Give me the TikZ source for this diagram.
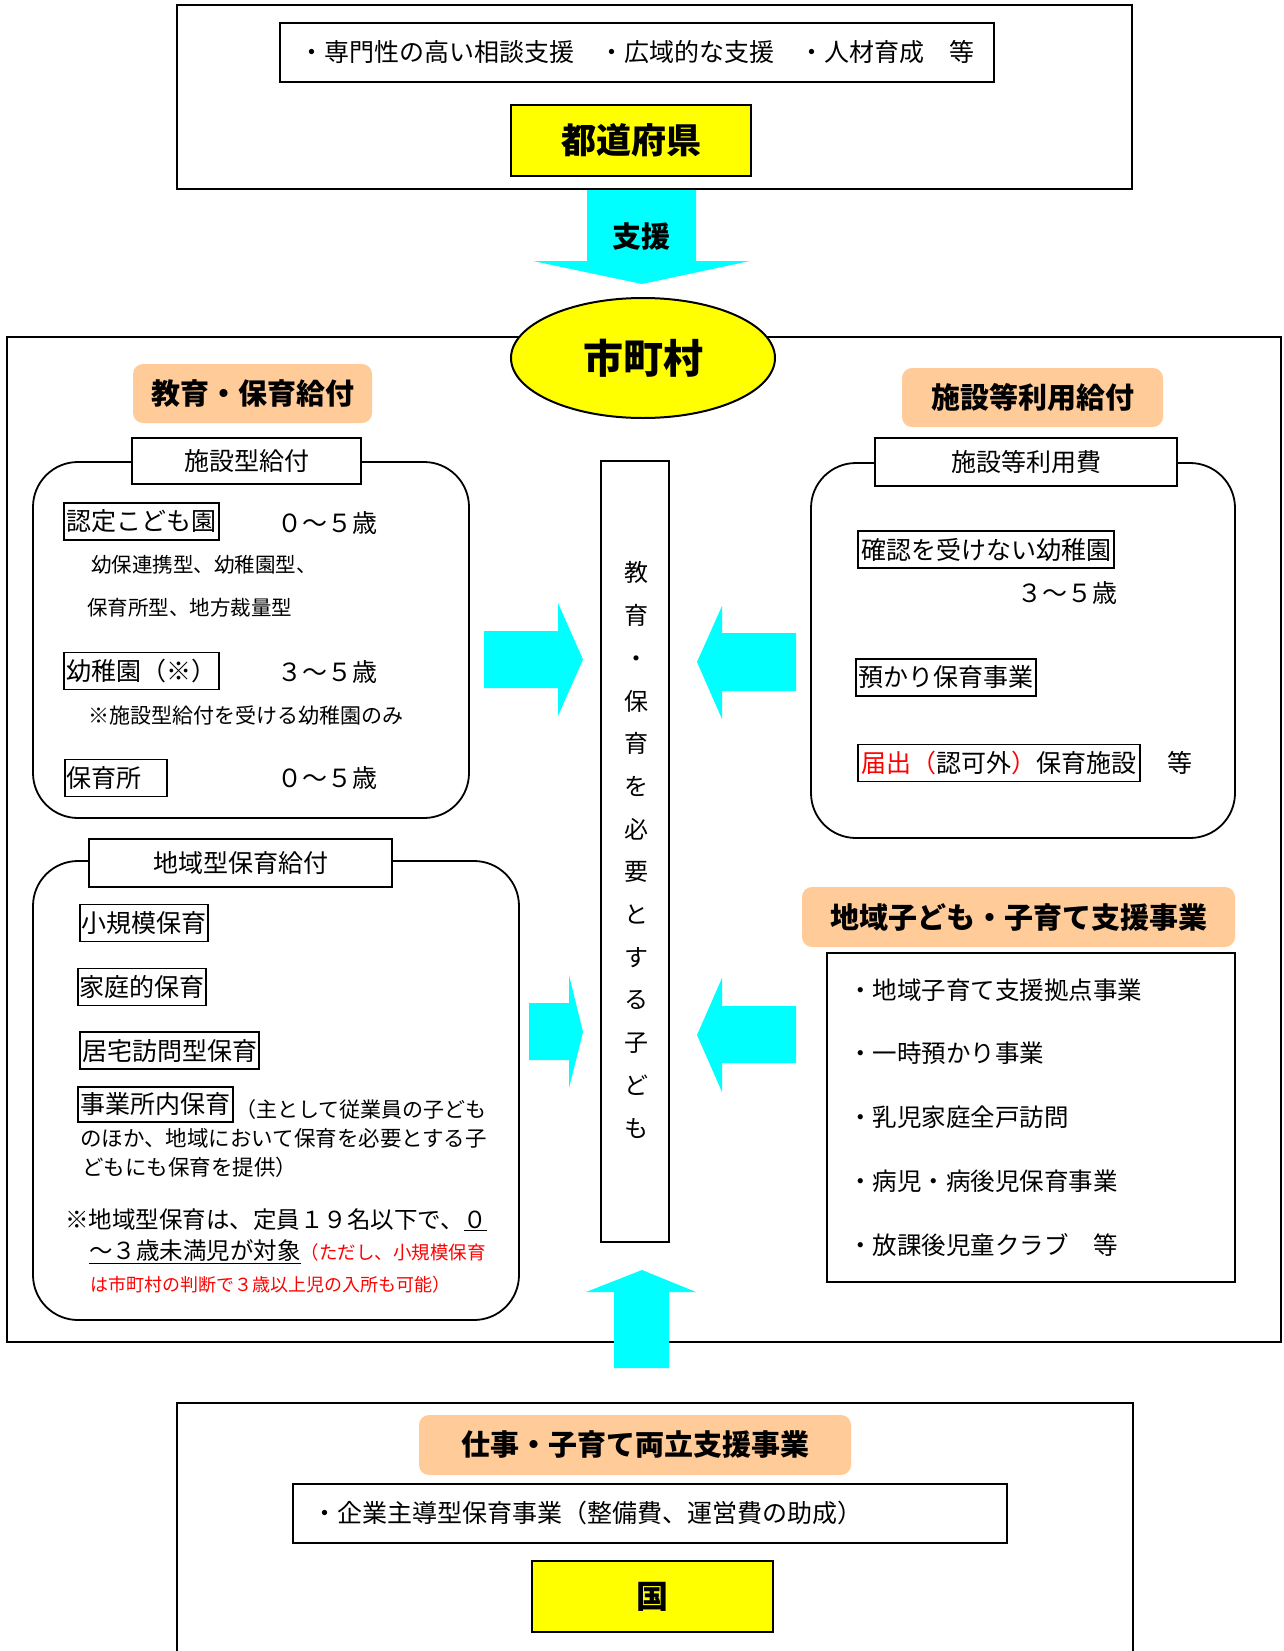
\documentclass[tikz,border=0pt]{standalone}
\usepackage{fontspec}
\usetikzlibrary{shapes.geometric}
\setmainfont{Noto Sans CJK JP}
\newcommand\fsz[1]{\fontsize{#1}{#1}\selectfont}
\definecolor{peach}{RGB}{255,204,153}
\definecolor{arrowcyan}{RGB}{0,255,255}
\definecolor{boxyellow}{RGB}{255,255,0}
\definecolor{redtext}{RGB}{255,0,0}
\begin{document}
\begin{tikzpicture}[x=1pt,y=-1pt,
 outerbox/.style={draw, line width=2.5, inner sep=0},
 framebox/.style={draw, line width=1.6, inner sep=0, fill=white},
 roundbox/.style={draw, line width=1.8, rounded corners=45, inner sep=0},
 peachlabel/.style={fill=peach, rounded corners=10, inner sep=0, font=\fsz{29}\bfseries},
 yellowbox/.style={draw, line width=2, fill=boxyellow, inner sep=0},
 itembox/.style={draw, line width=1.8, inner xsep=1, inner ysep=0, minimum height=37, font=\fsz{25}},
 txt/.style={anchor=west, inner sep=0, font=\fsz{25}},
 smalltxt/.style={anchor=west, inner sep=0, font=\fsz{20.5}},
 blockarrow/.style={fill=arrowcyan, draw=none},
]
\useasboundingbox (0,0) rectangle (1283,1651);
\fill[white] (0,0) rectangle (1283,1651);

% ---------- prefecture ----------
\node[outerbox, minimum width=955, minimum height=184] (pref) at (654.5,97) {};
\node[framebox, minimum width=714, minimum height=59, font=\fsz{25}] (preftext) at (637,52.5) {・専門性の高い相談支援　・広域的な支援　・人材育成　等};
\node[yellowbox, minimum width=240, minimum height=71, font=\fsz{35}\bfseries] (prefname) at (631,140.5) {都道府県};

% down arrow
\fill[arrowcyan] (587,190) -- (696,190) -- (696,261) -- (750,261) -- (642,284) -- (533,261) -- (587,261) -- cycle;
\node[font=\fsz{29}\bfseries, inner sep=0] (shien) at (641,237) {支援};

% ---------- municipality ----------
\node[outerbox, minimum width=1274, minimum height=1005] (city) at (644,839.5) {};
\node[draw, line width=2, fill=boxyellow, ellipse, minimum width=264, minimum height=120, inner sep=0, font=\fsz{40}\bfseries] (cityname) at (643,358) {市町村};

\node[peachlabel, minimum width=239, minimum height=59] (kyouiku) at (252.5,393.5) {教育・保育給付};
\node[peachlabel, minimum width=261, minimum height=59] (shisetsutou) at (1032.5,397.5) {施設等利用給付};

% facility-type benefit
\node[roundbox, minimum width=436, minimum height=356] (fac) at (251,640) {};
\node[framebox, minimum width=229, minimum height=46, font=\fsz{25}] (faclabel) at (246.5,461) {施設型給付};
\node[itembox, minimum width=155] (nintei) at (141.5,521.5) {認定こども園};
\node[txt] (age1) at (277,523) {０～５歳};
\node[smalltxt] (sub1) at (91,565) {幼保連携型、幼稚園型、};
\node[smalltxt] (sub2) at (87,608) {保育所型、地方裁量型};
\node[itembox, minimum width=155] (youchien) at (141.5,671) {幼稚園（※）};
\node[txt] (age2) at (277,672) {３～５歳};
\node[smalltxt, font=\fsz{21}] (note1) at (88,715) {※施設型給付を受ける幼稚園のみ};
\node[itembox, text width=100, align=left] (hoikusho) at (116,778) {保育所};
\node[txt] (age3) at (277,778) {０～５歳};

% facility use fee
\node[roundbox, minimum width=424, minimum height=375] (fee) at (1023,650.5) {};
\node[framebox, minimum width=302, minimum height=48, font=\fsz{25}] (feelabel) at (1026,462) {施設等利用費};
\node[itembox, minimum width=256] (kakunin) at (986,549.5) {確認を受けない幼稚園};
\node[txt] (age4) at (1017,593) {３～５歳};
\node[itembox, minimum width=180] (azukari) at (946,677.5) {預かり保育事業};
\node[itembox, minimum width=282] (todokede) at (999,763) {\textcolor{redtext}{届出（}認可外\textcolor{redtext}{）}保育施設};
\node[txt] (etc1) at (1167,763) {等};

% central column
\node[draw, line width=1.8, minimum width=68, minimum height=781, inner sep=0] (center) at (635,851.5) {};
\node[inner sep=0, align=center, font={\fontsize{24}{42.7}\selectfont}] (vtext) at (636,850) {教\\育\\・\\保\\育\\を\\必\\要\\と\\す\\る\\子\\ど\\も};

% regional-type
\node[roundbox, minimum width=486, minimum height=459] (reg) at (276,1090.5) {};
\node[framebox, minimum width=303, minimum height=48, font=\fsz{25}] (reglabel) at (240.5,863) {地域型保育給付};
\node[itembox, minimum width=128] (shokibo) at (144,923) {小規模保育};
\node[itembox, minimum width=128] (katei) at (142,987) {家庭的保育};
\node[itembox, minimum width=179] (kyotaku) at (169.5,1050.5) {居宅訪問型保育};
\node[itembox, minimum width=155, minimum height=35] (jigyousho) at (155.5,1104.5) {事業所内保育};
\node[anchor=west, inner sep=0, font=\fsz{21}] (j1) at (235,1110) {（主として従業員の子ども};
\node[anchor=west, inner sep=0, font=\fsz{21.5}] (j2) at (80,1138) {のほか、地域において保育を必要とする子};
\node[anchor=west, inner sep=0, font=\fsz{21.5}] (j3) at (82,1167) {どもにも保育を提供）};
\node[anchor=west, inner sep=0, font=\fsz{23.5}] (n1) at (65,1220) {※地域型保育は、定員１９名以下で、\underline{０}};
\node[anchor=west, inner sep=0, font=\fsz{23.5}] (n2) at (89,1252) {\underline{～３歳未満児が対象}\textcolor{redtext}{\fsz{18.5}（ただし、小規模保育}};
\node[anchor=west, inner sep=0, font=\fsz{18}, text=redtext] (n3) at (90,1285) {は市町村の判断で３歳以上児の入所も可能）};

% regional child support
\node[peachlabel, minimum width=433, minimum height=60] (chiiki) at (1018.5,917) {地域子ども・子育て支援事業};
\node[draw, line width=2, minimum width=408, minimum height=329, inner sep=0] (chiikibox) at (1031,1117.5) {};
\node[txt, font=\fsz{24.5}] (c1) at (848,990) {・地域子育て支援拠点事業};
\node[txt, font=\fsz{24.5}] (c2) at (848,1053) {・一時預かり事業};
\node[txt, font=\fsz{24.5}] (c3) at (848,1117) {・乳児家庭全戸訪問};
\node[txt, font=\fsz{24.5}] (c4) at (848,1181) {・病児・病後児保育事業};
\node[txt, font=\fsz{24.5}] (c5) at (848,1245) {・放課後児童クラブ　等};

% block arrows
\fill[arrowcyan] (484,631) -- (558,631) -- (558,603) -- (583,659.5) -- (558,716) -- (558,688) -- (484,688) -- cycle;
\fill[arrowcyan] (796,633) -- (722,633) -- (722,606) -- (697,662) -- (722,719) -- (722,691) -- (796,691) -- cycle;
\fill[arrowcyan] (529,1003) -- (569,1003) -- (569,975) -- (583,1032) -- (569,1088) -- (569,1060) -- (529,1060) -- cycle;
\fill[arrowcyan] (796,1006) -- (722,1006) -- (722,978) -- (697,1035) -- (722,1092) -- (722,1063) -- (796,1063) -- cycle;
\fill[arrowcyan] (614,1368) -- (614,1292) -- (586,1292) -- (642,1270) -- (696,1292) -- (669,1292) -- (669,1368) -- cycle;

% ---------- national ----------
\coordinate (natbl) at (177,1655);
\coordinate (nattl) at (177,1403);
\coordinate (nattr) at (1133,1403);
\coordinate (natbr) at (1133,1655);
\draw[line width=2.5] (natbl) -- (nattl) -- (nattr) -- (natbr);
\node[peachlabel, minimum width=432, minimum height=60] (ryouritsu) at (635,1445) {仕事・子育て両立支援事業};
\node[framebox, minimum width=714, minimum height=59] (nattext) at (650,1513.5) {};
\node[txt] (nattextline) at (312,1513) {・企業主導型保育事業（整備費、運営費の助成）};
\node[yellowbox, minimum width=241, minimum height=71, font=\fsz{32}\bfseries] (kuni) at (652.5,1596.5) {国};
\end{tikzpicture}
\end{document}
